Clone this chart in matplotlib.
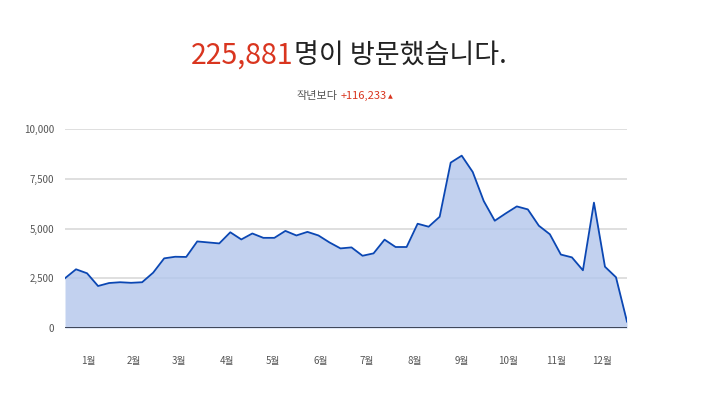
import matplotlib
matplotlib.use("Agg")
import matplotlib.pyplot as plt
import numpy as np

plt.rcParams['font.family'] = ['Noto Sans CJK KR', 'DejaVu Sans']

weekly_visits = [2500, 2950, 2750, 2110, 2260, 2300, 2270, 2300, 2780, 3500,
                 3580, 3570, 4350, 4300, 4250, 4810, 4450, 4750, 4530, 4530,
                 4880, 4650, 4830, 4650, 4300, 4000, 4050, 3630, 3750, 4440,
                 4070, 4070, 5240, 5090, 5590, 8310, 8660, 7840, 6380, 5390,
                 5760, 6110, 5960, 5140, 4710, 3690, 3550, 2900, 6300, 3080,
                 2550, 320]
month_labels = ['1월', '2월', '3월', '4월', '5월', '6월', '7월', '8월', '9월', '10월', '11월', '12월']
y_ticks = [0, 2500, 5000, 7500, 10000]
total_text = '225,881'
title_rest = '명이 방문했습니다.'
diff_text = '+116,233'

W, H = 720, 396
fig = plt.figure(figsize=(7.2, 3.96), dpi=100)
ax = fig.add_axes([65 / W, (H - 328) / H, (627 - 65) / W, 199 / H])

n = len(weekly_visits)
x = np.arange(n)
line_color = '#0b47b3'
fill_color = '#b3c6ec'
ax.fill_between(x, weekly_visits, 0, color=fill_color, alpha=0.8, zorder=3, linewidth=0)
ax.plot(x, weekly_visits, color=line_color, linewidth=1.3, zorder=4)

ax.set_xlim(0, n - 1)
ax.set_ylim(0, 10000)
ax.set_yticks(y_ticks)
ax.set_yticklabels([f'{v:,}' for v in y_ticks])
for v in y_ticks[1:]:
    ax.axhline(v, color='#d9d9d9', linewidth=1.2, zorder=1)
ax.axhline(0, color='#333a4a', linewidth=1.3, zorder=5)

# month ticks at mid-month (weeks)
days_per_unit = 365 / (n - 1)
mid_days = [15, 45, 74, 105, 135, 166, 196, 227, 258, 288, 319, 349]
ax.set_xticks([d / days_per_unit for d in mid_days])
ax.set_xticklabels(month_labels)
ax.tick_params(axis='both', length=0, labelsize=7, colors='#555555', pad=8)
ax.tick_params(axis='x', pad=20)
for s in ax.spines.values():
    s.set_visible(False)

ty = 1 - 56 / H
fig.text(293 / W, ty, total_text, color='#d9351f', fontsize=20.5, ha='right', va='center', fontweight='light')
fig.text(294 / W, ty, title_rest, color='#222222', fontsize=19.5, ha='left', va='center', fontweight='light')

sy = 1 - 96 / H
fig.text(338 / W, sy, '작년보다', color='#555555', fontsize=8, ha='right', va='center')
fig.text(341 / W, sy, diff_text, color='#d9351f', fontsize=8, ha='left', va='center')
fig.text(388 / W, sy - 0.002, '▲', color='#d9351f', fontsize=4.5, ha='left', va='center',
         family=['DejaVu Sans'])

fig.savefig('out.png', dpi=100, facecolor='white')
